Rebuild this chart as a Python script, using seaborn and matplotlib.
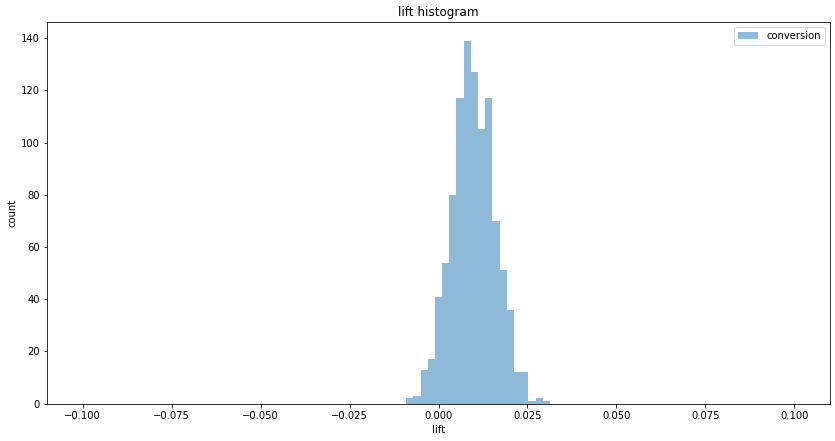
import numpy as np
import pandas as pd
import matplotlib
matplotlib.use('Agg')
import matplotlib.pyplot as plt
import seaborn as sns

# histogram: 99 equal bins over -0.1 .. 0.1
n_bins = 99
bin_range = (-0.1, 0.1)
# first non-empty bin index and the counts
first_bin = 45
counts = [2, 3, 13, 17, 41, 54, 80, 117, 139, 127,
          105, 117, 70, 51, 36, 12, 12, 1, 2, 1]

bin_edges = np.linspace(bin_range[0], bin_range[1], n_bins + 1)
centers = (bin_edges[:-1] + bin_edges[1:]) / 2
weights = np.zeros(n_bins)
weights[first_bin:first_bin + len(counts)] = counts
df = pd.DataFrame({'lift': centers, 'n': weights})

plt.rcParams['font.size'] = 10
fig = plt.figure(figsize=(835 / 72, 441 / 72), dpi=72)
ax = fig.add_axes([0.0563, 0.0846, 0.9377, 0.8644])
sns.histplot(data=df, x='lift', weights='n', bins=n_bins, binrange=bin_range,
             color='#1f77b4', alpha=0.5, linewidth=0, label='conversion', ax=ax)
ax.set_xticks([-0.1, -0.075, -0.05, -0.025, 0, 0.025, 0.05, 0.075, 0.1])
ax.set_xlim(-0.11, 0.11)
ax.set_title('lift histogram', fontsize=12)
ax.set_xlabel('lift')
ax.set_ylabel('count')
ax.legend(loc='upper right')
fig.savefig('out.png', dpi=72)
